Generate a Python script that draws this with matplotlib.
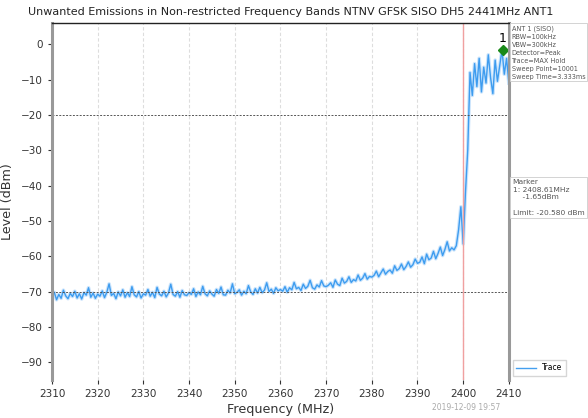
import numpy as np
import matplotlib
matplotlib.use("Agg")
import matplotlib.pyplot as plt

# Max-hold trace, one value per 0.5 MHz from 2310 to 2410 MHz
level = [
    -71.5, -70.2, -72.3, -70.8, -71.9, -69.6, -71.2, -72.0, -70.5, -71.4,
    -69.9, -71.8, -70.6, -72.1, -70.3, -71.0, -68.9, -71.6, -70.4, -71.9, -70.7,
    -71.3, -69.8, -71.7, -70.2, -67.8, -71.1, -70.5, -72.0, -70.1, -71.2,
    -69.5, -71.6, -70.3, -71.4, -68.6, -70.9, -71.5, -70.0, -71.8, -70.6,
    -71.0, -69.4, -71.3, -70.2, -71.7, -68.8, -70.7, -71.2, -69.9, -71.5,
    -70.4, -67.9, -70.8, -71.3, -70.0, -71.6, -69.7, -70.9, -71.1, -70.3,
    -70.8, -69.2, -71.4, -70.1, -70.9, -68.5, -70.6, -71.2, -69.8, -70.7,
    -71.3, -69.4, -70.5, -68.7, -70.9, -71.0, -69.6, -70.4, -67.8, -70.6,
    -70.2, -69.5, -71.0, -69.9, -70.6, -68.3, -70.1, -70.8, -69.2, -70.4,
    -68.8, -70.3, -69.6, -67.5, -70.0, -69.3, -70.5, -68.9, -69.8, -69.4,
    -69.9, -68.6, -70.2, -68.9, -69.5, -67.4, -69.2, -68.8, -69.7, -67.9,
    -69.1, -68.5, -66.8, -68.9, -69.3, -68.1, -68.7, -66.9, -68.4, -68.6,
    -68.2, -67.5, -68.8, -66.7, -67.9, -68.3, -66.2, -67.6, -67.1, -65.8,
    -67.4, -66.6, -67.0, -65.3, -66.8, -66.2, -64.9, -66.5, -65.7, -65.9,
    -65.4, -64.2, -65.8, -64.7, -63.6, -65.1, -64.3, -63.9, -64.8, -62.7,
    -64.0, -63.5, -62.2, -63.8, -62.9, -61.6, -63.1, -62.4, -60.8, -62.0,
    -61.7, -60.2, -62.1, -59.4, -61.0, -60.5, -58.6, -60.7, -59.2, -57.4,
    -59.8, -58.1, -55.9, -58.5, -57.6, -58.2, -57.0, -52.5,
    -46.0, -56.5, -42.0, -30.0, -8.0, -14.5, -5.5, -12.0, -4.0, -13.5,
    -6.5, -11.0, -3.0, -9.5, -14.0, -4.5, -10.5, -6.0, -1.65, -8.5, -4.0, -11.0,
]
freq = np.linspace(2310, 2410, len(level))

marker_freq = 2408.61
marker_level = -1.65
limit_lines = [-20, -70]
band_edge = 2400

xticks = list(range(2310, 2411, 10))
yticks = list(range(-90, 1, 10))

info_lines = ["ANT 1 (SISO)", "RBW=100kHz", "VBW=300kHz", "Detector=Peak",
              "Trace=MAX Hold", "Sweep Point=10001", "Sweep Time=3.333ms"]
marker_lines = ["Marker", "1: 2408.61MHz", "    -1.65dBm", "", "Limit: -20.580 dBm"]

fig = plt.figure(figsize=(5.88, 4.18), dpi=100)
ax = fig.add_axes([0.0884, 0.091, 0.777, 0.854])

# light haze under the trace, then the trace itself
ax.plot(freq, level, color="#a8d2fa", lw=2.6, alpha=0.6)
ax.plot(freq, level, color="#2f95ee", lw=1.0, alpha=0.9, label="Trace")
for lim in limit_lines:
    ax.axhline(lim, color="#555555", lw=0.7, ls=(0, (2, 1.5)))
ax.axvline(band_edge, color="#f0a0a0", lw=1.0)
ax.plot(marker_freq, marker_level, marker="D", color="#1a8a1a", ms=5)
ax.text(marker_freq, marker_level + 1.5, "1", ha="center", va="bottom", fontsize=9)

ax.set_xlim(2310, 2410)
ax.set_ylim(-95, 6)
ax.set_xticks(xticks)
ax.set_yticks(yticks)
ax.xaxis.grid(True, color="#dddddd", ls=(0, (3, 2)), lw=0.8)
ax.tick_params(labelsize=7.5, length=3, colors="#333333")

for side in ["left", "right"]:
    ax.spines[side].set_color("#999999")
    ax.spines[side].set_linewidth(2.2)
ax.spines["top"].set_color("#222222")
ax.spines["top"].set_linewidth(1.0)
ax.spines["bottom"].set_visible(False)

ax.set_xlabel("Frequency (MHz)", fontsize=9.2, color="#333333", labelpad=3)
ax.set_ylabel("Level (dBm)", fontsize=9.2, color="#333333", labelpad=5)

fig.text(0.495, 0.972, "Unwanted Emissions in Non-restricted Frequency Bands NTNV GFSK SISO DH5 2441MHz ANT1",
         ha="center", va="center", fontsize=8.0, color="#222222")

fig.text(0.87, 0.94, "\n".join(info_lines), ha="left", va="top", fontsize=4.7,
         color="#555555", linespacing=1.4,
         bbox=dict(boxstyle="square,pad=0.25", fc="white", ec="#cccccc", lw=0.6))
fig.text(0.872, 0.572, "\n".join(marker_lines), ha="left", va="top", fontsize=5.4,
         color="#555555", linespacing=1.35,
         bbox=dict(boxstyle="square,pad=0.3", fc="white", ec="#cccccc", lw=0.6))

ax.legend(loc="lower left", bbox_to_anchor=(1.0, 0.0), fontsize=5.5, frameon=True,
          handlelength=2.5, borderpad=0.5, fancybox=False, edgecolor="#cccccc")

fig.text(0.735, 0.026, "2019-12-09 19:57", fontsize=5.5, color="#aaaaaa", ha="left", va="center")

fig.savefig("out.png", dpi=100)
